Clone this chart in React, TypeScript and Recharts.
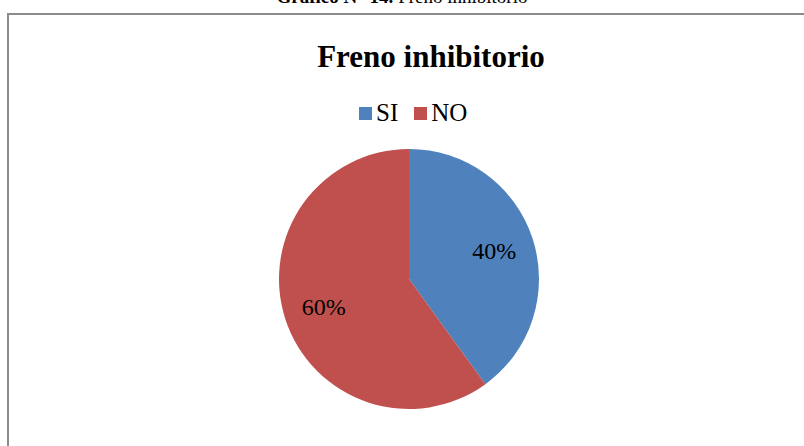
import React from 'react';
import { PieChart, Pie, Cell } from 'recharts';

const categories = ['SI', 'NO'];
const values = [40, 60];
const colors = ['#4F81BD', '#C0504D'];

const data = categories.map((name, i) => ({ name, value: values[i] }));

const SERIF = "'Liberation Serif', 'Times New Roman', serif";
const RAD = Math.PI / 180;

const renderLabel = (props: any) => {
  const { cx, cy, midAngle, outerRadius, percent } = props;
  const r = outerRadius * 0.69;
  const x = cx + r * Math.cos(-midAngle * RAD);
  const y = cy + r * Math.sin(-midAngle * RAD);
  return (
    <text
      x={x}
      y={y}
      textAnchor="middle"
      dominantBaseline="central"
      fill="#000"
      style={{ fontFamily: SERIF, fontSize: 24 }}
    >
      {`${Math.round(percent * 100)}%`}
    </text>
  );
};

export default function App() {
  return (
    <div style={{ position: 'absolute', left: 0, top: 0, width: 804, height: 446, background: '#fff', overflow: 'hidden' }}>
      <div
        style={{
          position: 'absolute',
          top: -14,
          left: 0,
          width: 804,
          textAlign: 'center',
          fontFamily: SERIF,
          fontSize: 19,
          color: '#000',
        }}
      >
        <b>Gráfico N° 14.</b> Freno inhibitorio
      </div>
      <div
        style={{
          position: 'absolute',
          left: 7,
          top: 13,
          width: 820,
          height: 460,
          border: '2px solid #8c8c8c',
          boxSizing: 'border-box',
        }}
      />
      <div
        style={{
          position: 'absolute',
          top: 39,
          left: 0,
          width: 862,
          textAlign: 'center',
          fontFamily: SERIF,
          fontSize: 31,
          fontWeight: 'bold',
          color: '#000',
        }}
      >
        Freno inhibitorio
      </div>
      <div
        style={{
          position: 'absolute',
          top: 99,
          left: 359,
          display: 'flex',
          fontFamily: SERIF,
          fontSize: 25,
          lineHeight: '28px',
          color: '#000',
        }}
      >
        {data.map((d, i) => (
          <span key={d.name} style={{ display: 'flex', alignItems: 'center', marginRight: 16 }}>
            <span style={{ width: 13, height: 13, background: colors[i], marginRight: 4, display: 'inline-block' }} />
            {d.name}
          </span>
        ))}
      </div>
      <PieChart
        width={804}
        height={446}
        margin={{ top: 0, right: 0, bottom: 0, left: 0 }}
        style={{ position: 'absolute', left: 0, top: 0 }}
      >
        <Pie
          data={data}
          dataKey="value"
          nameKey="name"
          cx={409}
          cy={279}
          outerRadius={130}
          startAngle={90}
          endAngle={-270}
          stroke="none"
          labelLine={false}
          label={renderLabel}
          isAnimationActive={false}
        >
          {data.map((d, i) => (
            <Cell key={d.name} fill={colors[i]} />
          ))}
        </Pie>
      </PieChart>
    </div>
  );
}
